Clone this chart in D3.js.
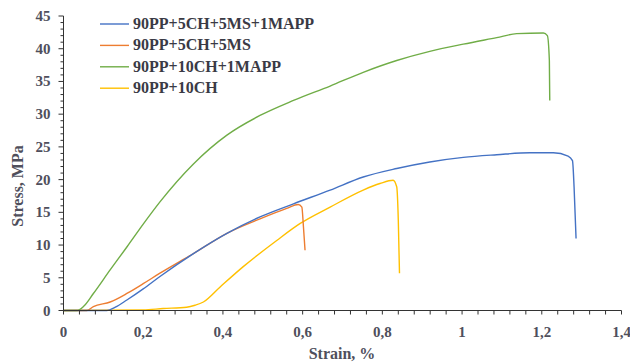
<!DOCTYPE html>
<html><head><meta charset="utf-8">
<script src="https://cdn.jsdelivr.net/npm/d3@7"></script>
<style>
html,body{margin:0;padding:0;background:#fff;}
svg{display:block;}
text{font-family:"Liberation Serif","Times New Roman",serif;font-weight:bold;}
</style></head>
<body>
<svg id="chart" width="630" height="363"></svg>
<script>
const seriesNames = ["90PP+5CH+5MS+1MAPP","90PP+5CH+5MS","90PP+10CH+1MAPP","90PP+10CH"];
const seriesColors = ["#4472C4","#ED7D31","#70AD47","#FFC000"];

const blueStrain  = [0,0.109,0.13,0.159,0.2,0.242,0.326,0.41,0.493,0.577,0.669,0.752,0.836,0.919,1.003,1.087,1.17,1.229,1.266,1.277,1.281,1.286];
const blueStress  = [0,0,0.5,1.6,3.3,5.2,8.7,11.8,14.3,16.3,18.4,20.4,21.7,22.7,23.4,23.8,24.1,24.1,23.6,22.9,18.9,11.0];

const orangeStrain = [0,0.059,0.075,0.117,0.159,0.2,0.242,0.326,0.41,0.493,0.56,0.589,0.598,0.602,0.606];
const orangeStress = [0,0,0.6,1.3,2.6,4.1,5.7,8.7,11.8,14.0,15.6,16.2,15.8,12.8,9.2];

const greenStrain = [0,0.034,0.05,0.075,0.117,0.159,0.2,0.242,0.326,0.41,0.493,0.577,0.669,0.752,0.836,0.919,1.003,1.087,1.137,1.204,1.214,1.219,1.22];
const greenStress = [0,0,0.6,2.6,6.2,9.7,13.2,16.6,22.4,26.8,29.8,32.1,34.3,36.4,38.2,39.6,40.7,41.7,42.3,42.4,42.0,38.2,32.1];

const yellowStrain = [0,0.2,0.25,0.309,0.33,0.351,0.393,0.451,0.535,0.594,0.669,0.752,0.794,0.827,0.836,0.84,0.843];
const yellowStress = [0,0.1,0.3,0.5,0.8,1.3,3.6,6.7,10.7,13.3,15.8,18.4,19.4,19.9,18.9,13.8,5.7];

const xTicks = [0,0.2,0.4,0.6,0.8,1,1.2,1.4];
const xTickLabels = ["0","0,2","0,4","0,6","0,8","1","1,2","1,4"];
const yTicks = [0,5,10,15,20,25,30,35,40,45];
const xTitle = "Strain, %";
const yTitle = "Stress, MPa";

const series = [
  {name: seriesNames[0], color: seriesColors[0], x: blueStrain, y: blueStress},
  {name: seriesNames[1], color: seriesColors[1], x: orangeStrain, y: orangeStress},
  {name: seriesNames[2], color: seriesColors[2], x: greenStrain, y: greenStress},
  {name: seriesNames[3], color: seriesColors[3], x: yellowStrain, y: yellowStress}
];

const svg = d3.select("#chart");
const x = d3.scaleLinear().domain([0,1.4]).range([63.5,621.5]);
const y = d3.scaleLinear().domain([0,45]).range([310.5,16]);
const axisColor = "#333";
const textColor = "#4f4f5c";

// series lines
const line = d3.line().x((d)=>x(d[0])).y((d)=>y(d[1])).curve(d3.curveMonotoneX);
const drawOrder = [3,1,0,2];
drawOrder.forEach(i=>{
  const s = series[i];
  const pts = s.x.map((v,k)=>[v,s.y[k]]);
  svg.append("path").attr("d", line(pts)).attr("fill","none")
    .attr("stroke", s.color).attr("stroke-width",1.4).attr("stroke-linejoin","round");
});

// x axis
const xMinor = d3.range(0,1.4001,0.04);
const gx = svg.append("g").attr("transform",`translate(0,${y(0)})`);
gx.append("line").attr("x1",x(0)).attr("x2",x(1.4)).attr("stroke",axisColor).attr("stroke-width",1);
gx.selectAll("line.mt").data(xMinor).join("line").attr("class","mt")
  .attr("x1",d=>x(d)).attr("x2",d=>x(d)).attr("y1",0).attr("y2",4)
  .attr("stroke",axisColor).attr("stroke-width",1);
gx.selectAll("text").data(xTicks).join("text")
  .attr("x",d=>x(d)).attr("y",26).attr("text-anchor","middle")
  .attr("fill",textColor).attr("font-size",15).text((d,i)=>xTickLabels[i]);

// y axis
const yMinor = d3.range(0,45.001,1);
const gy = svg.append("g").attr("transform",`translate(${x(0)},0)`);
gy.append("line").attr("y1",y(0)).attr("y2",y(45)).attr("stroke",axisColor).attr("stroke-width",1);
gy.selectAll("line.mt").data(yMinor).join("line").attr("class","mt")
  .attr("x1",d=> d%5===0 ? -5 : -3).attr("x2",0).attr("y1",d=>y(d)).attr("y2",d=>y(d))
  .attr("stroke",axisColor).attr("stroke-width",1);
gy.selectAll("text").data(yTicks).join("text")
  .attr("x",-13).attr("y",d=>y(d)+5).attr("text-anchor","end")
  .attr("fill",textColor).attr("font-size",15).text(d=>d);

// titles
svg.append("text").attr("x",342).attr("y",359).attr("text-anchor","middle")
  .attr("fill",textColor).attr("font-size",16).text(xTitle);
svg.append("text").attr("transform","translate(23,186) rotate(-90)").attr("text-anchor","middle")
  .attr("fill",textColor).attr("font-size",16).text(yTitle);

// legend
const lg = svg.append("g");
series.forEach((s,i)=>{
  const ly = 24 + i*21.4;
  lg.append("line").attr("x1",100).attr("x2",129).attr("y1",ly).attr("y2",ly)
    .attr("stroke",s.color).attr("stroke-width",1.4);
  lg.append("text").attr("x",133).attr("y",ly+5).attr("fill","#3a3a45")
    .attr("font-size",16).text(s.name);
});
</script>
</body></html>
